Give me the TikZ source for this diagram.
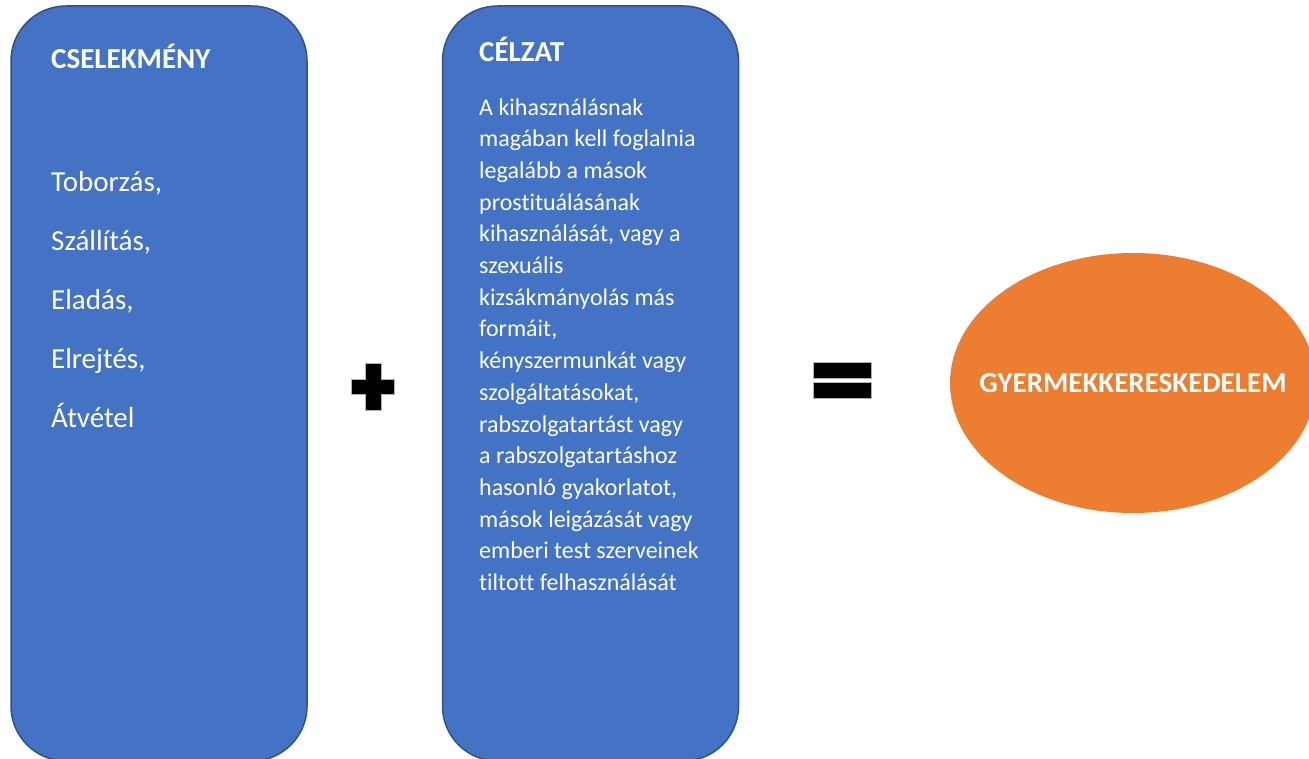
\documentclass[tikz,border=0pt]{standalone}
\usepackage{fontspec}
\setmainfont{Carlito}[Ligatures=NoCommon]
\usetikzlibrary{shapes.geometric}

\definecolor{boxblue}{HTML}{4472C4}
\definecolor{boxedge}{HTML}{2F528F}
\definecolor{ovalorange}{HTML}{ED7D31}

\tikzset{
    stagebox/.style={draw=boxedge, line width=1.5pt, fill=boxblue,
        rounded corners=55pt, minimum width=296pt, minimum height=755pt, inner sep=0pt},
    headtext/.style={text=white, anchor=base west, inner sep=0pt,
        font=\fontsize{29}{35}\selectfont\bfseries},
    listtext/.style={text=white, anchor=base west, inner sep=0pt, align=left,
        font=\fontsize{29}{59}\selectfont},
    bodytext/.style={text=white, anchor=base west, inner sep=0pt, align=left,
        font=\fontsize{24}{31.7}\selectfont},
    resulttext/.style={text=white, inner sep=0pt, font=\fontsize{29}{35}\selectfont\bfseries},
    signshape/.style={fill=black, draw=gray!60, line width=0.4pt}
}

\begin{document}
\begin{tikzpicture}[x=1pt,y=-1pt]
    \useasboundingbox (0,0) rectangle (1309,759);
    \clip (0,0) rectangle (1309,759);

    % 绘制两个蓝色方框
    \node[stagebox] (act) at (159,383.5) {};
    \node[stagebox] (intent) at (590.5,383.5) {};

    % 方框中的文字（多行节点以最后一行基线定位）
    \node[headtext] (acthead) at (51,69) {CSELEKMÉNY};
    \node[listtext] (actlist) at (51,427) {Toborzás,\\Szállítás,\\Eladás,\\Elrejtés,\\Átvétel};
    \node[headtext] (intenthead) at (479,62) {CÉLZAT};
    \node[bodytext] (intentbody) at (479,590.5) {A kihasználásnak\\magában kell foglalnia\\legalább a mások\\prostituálásának\\kihasználását, vagy a\\szexuális\\kizsákmányolás más\\formáit,\\kényszermunkát vagy\\szolgáltatásokat,\\rabszolgatartást vagy\\a rabszolgatartáshoz\\hasonló gyakorlatot,\\mások leigázását vagy\\emberi test szerveinek\\tiltott felhasználását};

    % 加号
    \filldraw[signshape] (365,363) -- (381,363) -- (381,379) -- (394,379) -- (394,394)
        -- (381,394) -- (381,410) -- (365,410) -- (365,394) -- (351,394)
        -- (351,379) -- (365,379) -- cycle;

    % 等号
    \filldraw[signshape] (813,362) rectangle (871,378);
    \filldraw[signshape] (813,382) rectangle (871,398);

    % 橙色椭圆
    \fill[ovalorange] (1133,383) ellipse [x radius=183, y radius=130];
    \node[resulttext] (result) at (1133,383) {GYERMEKKERESKEDELEM};
\end{tikzpicture}
\end{document}
